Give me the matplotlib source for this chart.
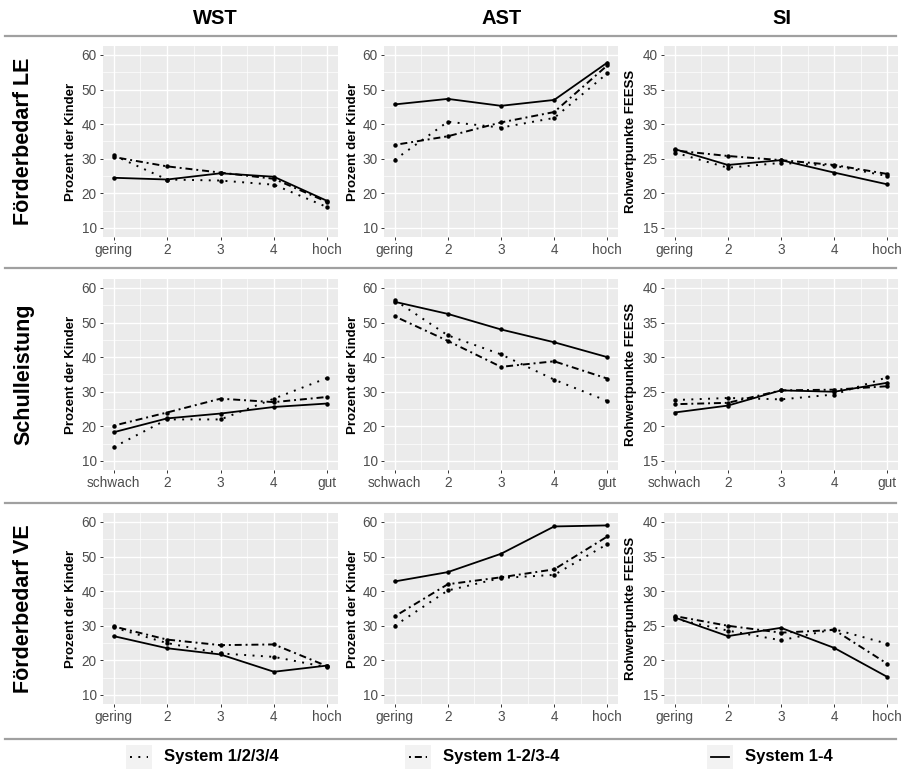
import matplotlib
matplotlib.use('Agg')
import matplotlib.pyplot as plt
from matplotlib.lines import Line2D
from matplotlib.patches import Rectangle

plt.rcParams['font.family'] = ['Liberation Sans', 'DejaVu Sans']

W, H = 901, 770

# ---- data ----
systems = ['System 1/2/3/4', 'System 1-2/3-4', 'System 1-4']
col_titles = ['WST', 'AST', 'SI']
row_titles = ['Förderbedarf LE', 'Schulleistung', 'Förderbedarf VE']
xlab_fb = ['gering', '2', '3', '4', 'hoch']
xlab_sl = ['schwach', '2', '3', '4', 'gut']
ylab_pct = 'Prozent der Kinder'
ylab_si = 'Rohwertpunkte FEESS'

# Förderbedarf LE
le_wst_1234 = [31.0, 24.0, 23.7, 22.5, 16.0]
le_wst_12_34 = [30.5, 27.8, 26.0, 24.2, 17.5]
le_wst_14 = [24.5, 24.0, 25.8, 24.8, 17.8]
le_ast_1234 = [29.7, 40.7, 39.0, 41.8, 54.7]
le_ast_12_34 = [34.0, 36.5, 40.5, 43.5, 57.0]
le_ast_14 = [45.7, 47.3, 45.3, 47.0, 57.8]
le_si_1234 = [25.9, 23.7, 24.4, 24.0, 22.5]
le_si_12_34 = [26.2, 25.4, 24.8, 24.1, 22.8]
le_si_14 = [26.4, 24.1, 24.8, 23.0, 21.3]

# Schulleistung
sl_wst_1234 = [14.0, 22.0, 22.0, 28.0, 34.0]
sl_wst_12_34 = [20.2, 24.0, 28.0, 27.0, 28.5]
sl_wst_14 = [18.3, 22.3, 23.7, 25.6, 26.6]
sl_ast_1234 = [56.5, 46.3, 40.8, 33.5, 27.3]
sl_ast_12_34 = [51.8, 44.7, 37.2, 38.8, 33.8]
sl_ast_14 = [56.0, 52.5, 48.0, 44.3, 40.0]
sl_si_1234 = [23.8, 24.1, 23.9, 24.6, 27.1]
sl_si_12_34 = [23.2, 23.4, 25.2, 25.3, 25.8]
sl_si_14 = [22.0, 23.0, 25.2, 25.0, 26.3]

# Förderbedarf VE
ve_wst_1234 = [29.5, 25.0, 22.0, 21.0, 18.0]
ve_wst_12_34 = [29.8, 26.0, 24.4, 24.6, 18.3]
ve_wst_14 = [27.0, 23.5, 21.7, 16.7, 18.5]
ve_ast_1234 = [30.0, 40.2, 43.8, 44.7, 53.6]
ve_ast_12_34 = [32.7, 42.0, 44.0, 46.3, 55.8]
ve_ast_14 = [42.8, 45.5, 50.8, 58.7, 59.0]
ve_si_1234 = [26.0, 24.3, 22.9, 24.5, 22.4]
ve_si_12_34 = [26.4, 25.0, 24.0, 24.4, 19.5]
ve_si_14 = [26.2, 23.5, 24.7, 21.8, 17.6]

panels = [
    [(le_wst_1234, le_wst_12_34, le_wst_14),
     (le_ast_1234, le_ast_12_34, le_ast_14),
     (le_si_1234, le_si_12_34, le_si_14)],
    [(sl_wst_1234, sl_wst_12_34, sl_wst_14),
     (sl_ast_1234, sl_ast_12_34, sl_ast_14),
     (sl_si_1234, sl_si_12_34, sl_si_14)],
    [(ve_wst_1234, ve_wst_12_34, ve_wst_14),
     (ve_ast_1234, ve_ast_12_34, ve_ast_14),
     (ve_si_1234, ve_si_12_34, ve_si_14)],
]
row_xlabels = [xlab_fb, xlab_sl, xlab_fb]

# line styles per system
styles = [
    dict(linestyle=(0, (1, 3.3)), linewidth=1.4),
    dict(linestyle=(0, (1, 2, 3.6, 2)), linewidth=1.4),
    dict(linestyle='-', linewidth=1.3),
]

# ---- layout in pixels ----
col_x = [(103, 338), (384, 618), (664, 898)]
row_y = [(46.3, 236.6), (279.3, 469.6), (513.3, 703.6)]
ylab_x = [71, 353, 631]
title_x = [215, 502, 782]
sep_y = [36, 268, 503, 739]

fig = plt.figure(figsize=(W / 100, H / 100), dpi=100)

def fx(px): return px / W
def fy(py): return 1 - py / H

x = [1, 2, 3, 4, 5]
for r in range(3):
    for c in range(3):
        x0, x1 = col_x[c]
        y0, y1 = row_y[r]
        ax = fig.add_axes([fx(x0), fy(y1), (x1 - x0) / W, (y1 - y0) / H])
        ax.set_facecolor('#EBEBEB')
        for s in ax.spines.values():
            s.set_visible(False)
        for k, ys in enumerate(panels[r][c]):
            ax.plot(x, ys, color='black', marker='o', markersize=3.2,
                    markeredgewidth=0, zorder=3, **styles[k])
        if c == 2:
            ax.set_ylim(13.75, 41.25)
            ax.set_yticks([15, 20, 25, 30, 35, 40])
            ax.set_yticks([17.5, 22.5, 27.5, 32.5, 37.5], minor=True)
        else:
            ax.set_ylim(7.5, 62.5)
            ax.set_yticks([10, 20, 30, 40, 50, 60])
            ax.set_yticks([15, 25, 35, 45, 55], minor=True)
        ax.set_xlim(0.8, 5.2)
        ax.set_xticks(x)
        ax.set_xticks([1.5, 2.5, 3.5, 4.5], minor=True)
        ax.set_xticklabels(row_xlabels[r])
        ax.grid(True, which='major', color='white', linewidth=1.0)
        ax.grid(True, which='minor', color='white', linewidth=0.5)
        ax.set_axisbelow(True)
        ax.tick_params(which='major', length=2.5, width=0.7, color='#333333',
                       labelsize=9.8, labelcolor='#4D4D4D', pad=2)
        ax.tick_params(which='minor', length=0)
        yc = (y0 + y1) / 2
        fig.text(fx(ylab_x[c]), fy(yc), ylab_si if c == 2 else ylab_pct,
                 rotation=90, ha='center', va='center', fontsize=9.5,
                 fontweight='bold')
    fig.text(fx(24), fy((row_y[r][0] + row_y[r][1]) / 2), row_titles[r],
             rotation=90, ha='center', va='center', fontsize=15.5,
             fontweight='bold')

for c in range(3):
    fig.text(fx(title_x[c]), fy(18), col_titles[c], ha='center', va='center',
             fontsize=14.5, fontweight='bold')

for yy in sep_y:
    fig.add_artist(Line2D([fx(5), fx(896)], [fy(yy), fy(yy)],
                          color='#A0A0A0', linewidth=1.6))

# legend
key_x = [126, 405, 707]
leg_y = 757
for k in range(3):
    fig.add_artist(Rectangle((fx(key_x[k]), fy(leg_y + 12)), 26 / W, 24 / H,
                             facecolor='#F2F2F2', edgecolor='none'))
    fig.add_artist(Line2D([fx(key_x[k] + 4), fx(key_x[k] + 22)],
                          [fy(leg_y), fy(leg_y)], color='black', **styles[k]))
    fig.text(fx(key_x[k] + 38), fy(leg_y), systems[k], ha='left',
             va='center', fontsize=12, fontweight='bold')

fig.savefig('out.png', dpi=100)
